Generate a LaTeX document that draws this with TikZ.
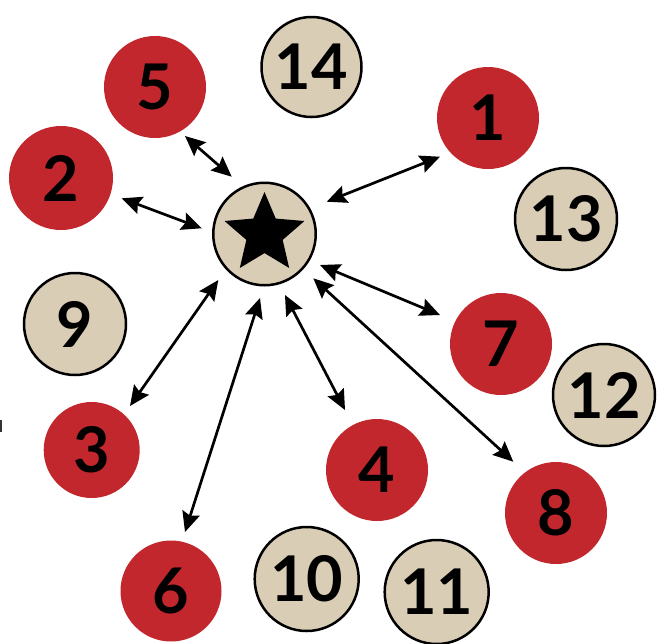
\documentclass[tikz,border=0pt]{standalone}
\usepackage{fontspec}
\setmainfont{Lato}
\usetikzlibrary{arrows.meta,shapes.geometric}
\definecolor{redc}{RGB}{193,39,45}
\definecolor{beige}{RGB}{217,205,182}
\begin{document}
\begin{tikzpicture}[x=1pt,y=-1pt,
  num/.style={circle,inner sep=0pt,font=\fontsize{63}{63}\selectfont\bfseries,text=black},
  rednode/.style={num,fill=redc,minimum size=#1},
  beigenode/.style={num,fill=beige,draw=black,line width=2.5pt,minimum size=#1},
  link/.style={line width=2.7pt,{Stealth[length=20pt,width=18pt,inset=3pt]}-{Stealth[length=20pt,width=18pt,inset=3pt]}}]
\useasboundingbox (0,0) rectangle (661,643);
% centre
\node[circle,fill=beige,draw=black,line width=2.5pt,minimum size=102.5pt,inner sep=0pt] (star) at (264.5,234) {};
\node[star,star points=5,star point ratio=2.2,minimum size=84pt,inner sep=0pt,fill=black] (starsym) at (264.5,234) {};
% red nodes
\node[rednode=102pt] (n5) at (155,87) {5};
\node[rednode=102pt] (n1) at (488,118) {1};
\node[rednode=104pt] (n2) at (61,178) {2};
\node[rednode=102pt] (n7) at (501,344) {7};
\node[rednode=96pt] (n3) at (91.7,450) {3};
\node[rednode=102pt] (n4) at (377,470) {4};
\node[rednode=102pt] (n8) at (556,513) {8};
\node[rednode=101pt] (n6) at (171,591) {6};
% beige nodes
\node[beigenode=100pt] (n14) at (311.5,67) {14};
\node[beigenode=102pt] (n13) at (566,219) {13};
\node[beigenode=102pt] (n9) at (75,324) {9};
\node[beigenode=102pt] (n12) at (604,395) {12};
\node[beigenode=104pt] (n10) at (306.7,579) {10};
\node[beigenode=104pt] (n11) at (436.7,592) {11};
% arrow end points
\coordinate (a5o) at (185,136);     \coordinate (a5i) at (231.7,176.7);
\coordinate (a2o) at (121.7,198.3); \coordinate (a2i) at (201.7,228.3);
\coordinate (a1o) at (440,156.7);   \coordinate (a1i) at (326.7,201.7);
\coordinate (a7o) at (440,315);     \coordinate (a7i) at (320,265);
\coordinate (a8o) at (513.3,461.7); \coordinate (a8i) at (313.3,278.3);
\coordinate (a4o) at (345,410);     \coordinate (a4i) at (285,295);
\coordinate (a6o) at (185,532);     \coordinate (a6i) at (260,298);
\coordinate (a3o) at (130,406);     \coordinate (a3i) at (218.3,280);
\draw[link] (a5o) -- (a5i);
\draw[link] (a2o) -- (a2i);
\draw[link] (a1o) -- (a1i);
\draw[link] (a7o) -- (a7i);
\draw[link] (a8o) -- (a8i);
\draw[link] (a4o) -- (a4i);
\draw[link] (a6o) -- (a6i);
\draw[link] (a3o) -- (a3i);
% small mark at left edge
\coordinate (m1) at (1,420); \coordinate (m2) at (1,432);
\draw[line width=2pt,black!80] (m1) -- (m2);
\end{tikzpicture}
\end{document}
